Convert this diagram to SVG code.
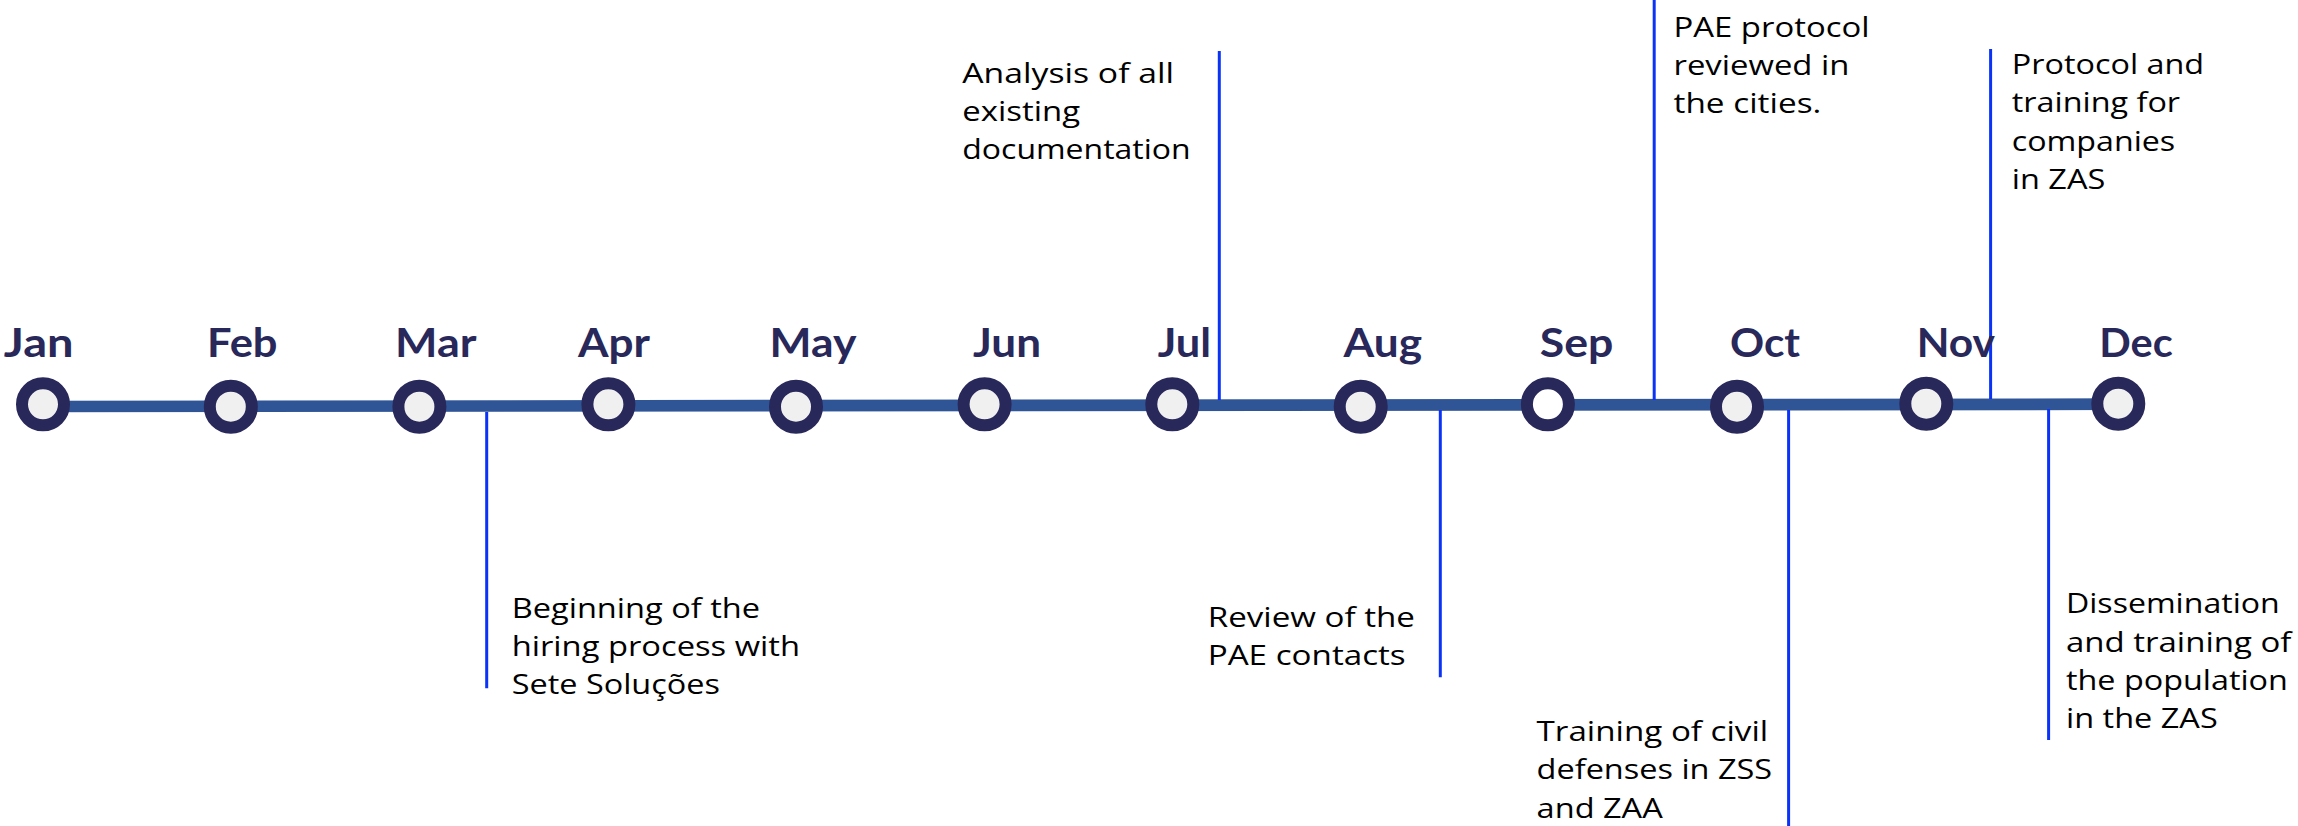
<svg xmlns="http://www.w3.org/2000/svg" width="2298" height="826" viewBox="0 0 2298 826">
<style>
.m{font-family:Lato,"Open Sans","Liberation Sans",sans-serif;font-weight:700;font-size:41px;fill:#28285A}
.e{font-family:"Open Sans","Liberation Sans",sans-serif;font-size:28px;fill:#000}
.dot{stroke:#28285A;stroke-width:12;fill:#F0F0F0}
.lead{stroke:#0B33F7;stroke-width:3;fill:none}
</style>
<rect width="2298" height="826" fill="#fff"/>
<g id="axis"><line x1="43" y1="406.5" x2="2118" y2="404.2" stroke="#2F5597" stroke-width="11.7"/></g>
<g id="connectors">
<line class="lead" x1="486.7" y1="412" x2="486.7" y2="688.3"/>
<line class="lead" x1="1219.3" y1="51" x2="1219.3" y2="400"/>
<line class="lead" x1="1440.3" y1="410" x2="1440.3" y2="677.3"/>
<line class="lead" x1="1654.2" y1="0" x2="1654.2" y2="400"/>
<line class="lead" x1="1788.6" y1="410" x2="1788.6" y2="826"/>
<line class="lead" x1="1990.6" y1="49" x2="1990.6" y2="399"/>
<line class="lead" x1="2048.6" y1="409" x2="2048.6" y2="740"/>
</g>
<g id="jan"><circle class="dot" cx="43" cy="404.3" r="21"/><text class="m" x="3.8" y="357.3" textLength="69.7" lengthAdjust="spacingAndGlyphs">Jan</text></g>
<g id="feb"><circle class="dot" cx="230.8" cy="406.7" r="21"/><text class="m" x="207" y="357.3" textLength="70.5" lengthAdjust="spacingAndGlyphs">Feb</text></g>
<g id="mar"><circle class="dot" cx="419.4" cy="406.7" r="21"/><text class="m" x="395" y="357.3" textLength="81.5" lengthAdjust="spacingAndGlyphs">Mar</text></g>
<g id="apr"><circle class="dot" cx="608.4" cy="404.3" r="21"/><text class="m" x="578" y="357.3" textLength="72" lengthAdjust="spacingAndGlyphs">Apr</text></g>
<g id="may"><circle class="dot" cx="796" cy="406.7" r="21"/><text class="m" x="769.5" y="357.3" textLength="86.9" lengthAdjust="spacingAndGlyphs">May</text></g>
<g id="jun"><circle class="dot" cx="984.6" cy="404.3" r="21"/><text class="m" x="973" y="357.3" textLength="68" lengthAdjust="spacingAndGlyphs">Jun</text></g>
<g id="jul"><circle class="dot" cx="1172.3" cy="404.3" r="21"/><text class="m" x="1157.7" y="357.3" textLength="53.3" lengthAdjust="spacingAndGlyphs">Jul</text></g>
<g id="aug"><circle class="dot" cx="1360.7" cy="406.7" r="21"/><text class="m" x="1343.5" y="357.3" textLength="78.5" lengthAdjust="spacingAndGlyphs">Aug</text></g>
<g id="sep"><circle class="dot" cx="1547.9" cy="404.3" r="21" style="fill:#fff"/><text class="m" x="1539.8" y="357.3" textLength="73.5" lengthAdjust="spacingAndGlyphs">Sep</text></g>
<g id="oct"><circle class="dot" cx="1737" cy="406.7" r="21"/><text class="m" x="1730" y="357.3" textLength="70" lengthAdjust="spacingAndGlyphs">Oct</text></g>
<g id="nov"><circle class="dot" cx="1926.3" cy="403.7" r="21"/><text class="m" x="1916.7" y="357.3" textLength="78.3" lengthAdjust="spacingAndGlyphs">Nov</text></g>
<g id="dec"><circle class="dot" cx="2118.3" cy="403.7" r="21"/><text class="m" x="2099.3" y="357.3" textLength="73.4" lengthAdjust="spacingAndGlyphs">Dec</text></g>
<g id="ev-analysis">
<text class="e" x="962.3" y="83.3" textLength="211.7" lengthAdjust="spacingAndGlyphs">Analysis of all</text>
<text class="e" x="962.3" y="120.7" textLength="117.7" lengthAdjust="spacingAndGlyphs">existing</text>
<text class="e" x="962.3" y="159.3" textLength="228.3" lengthAdjust="spacingAndGlyphs">documentation</text>
</g>
<g id="ev-hiring">
<text class="e" x="511.7" y="617.7" textLength="248.3" lengthAdjust="spacingAndGlyphs">Beginning of the</text>
<text class="e" x="511.7" y="656" textLength="288.3" lengthAdjust="spacingAndGlyphs">hiring process with</text>
<text class="e" x="511.7" y="694.3" textLength="208.3" lengthAdjust="spacingAndGlyphs">Sete Soluções</text>
</g>
<g id="ev-review">
<text class="e" x="1207.7" y="627.3" textLength="207.3" lengthAdjust="spacingAndGlyphs">Review of the</text>
<text class="e" x="1207.7" y="665" textLength="198" lengthAdjust="spacingAndGlyphs">PAE contacts</text>
</g>
<g id="ev-pae">
<text class="e" x="1673.5" y="36.7" textLength="196" lengthAdjust="spacingAndGlyphs">PAE protocol</text>
<text class="e" x="1673.5" y="75" textLength="175.9" lengthAdjust="spacingAndGlyphs">reviewed in</text>
<text class="e" x="1673.5" y="113.3" textLength="147.8" lengthAdjust="spacingAndGlyphs">the cities.</text>
</g>
<g id="ev-companies">
<text class="e" x="2011.8" y="74" textLength="192.3" lengthAdjust="spacingAndGlyphs">Protocol and</text>
<text class="e" x="2011.8" y="112.3" textLength="168.3" lengthAdjust="spacingAndGlyphs">training for</text>
<text class="e" x="2011.8" y="150.7" textLength="163.4" lengthAdjust="spacingAndGlyphs">companies</text>
<text class="e" x="2011.8" y="189" textLength="93.5" lengthAdjust="spacingAndGlyphs">in ZAS</text>
</g>
<g id="ev-civil">
<text class="e" x="1536.6" y="741" textLength="231.6" lengthAdjust="spacingAndGlyphs">Training of civil</text>
<text class="e" x="1536.6" y="779.3" textLength="235.6" lengthAdjust="spacingAndGlyphs">defenses in ZSS</text>
<text class="e" x="1536.6" y="817.7" textLength="126.2" lengthAdjust="spacingAndGlyphs">and ZAA</text>
</g>
<g id="ev-population">
<text class="e" x="2066" y="613.3" textLength="213.7" lengthAdjust="spacingAndGlyphs">Dissemination</text>
<text class="e" x="2066" y="651.7" textLength="225.4" lengthAdjust="spacingAndGlyphs">and training of</text>
<text class="e" x="2066" y="690" textLength="221.9" lengthAdjust="spacingAndGlyphs">the population</text>
<text class="e" x="2066" y="728.3" textLength="151.7" lengthAdjust="spacingAndGlyphs">in the ZAS</text>
</g>
</svg>
